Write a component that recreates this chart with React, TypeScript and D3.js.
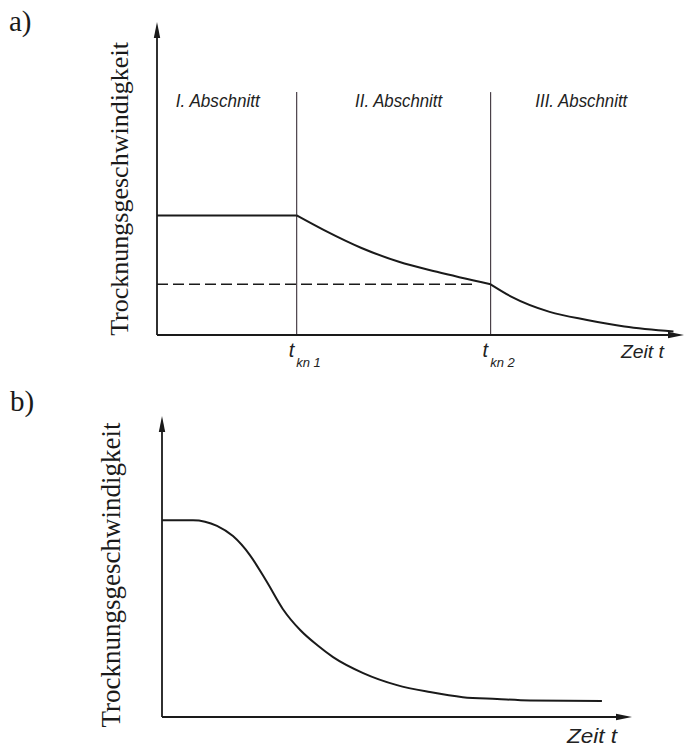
import React from 'react';
import * as d3 from 'd3';

// ---------- data (chart a) ----------
const sectionLabels = ['I. Abschnitt', 'II. Abschnitt', 'III. Abschnitt'];
const criticalTimes = [2.65, 6.33];
const criticalSubs = ['kn 1', 'kn 2'];
const phase1T = [0, 2.65];
const phase1V = [3.82, 3.82];
const phase2T = [2.65, 3.17, 3.88, 4.59, 5.31, 6.33];
const phase2V = [3.82, 3.35, 2.78, 2.34, 2.02, 1.62];
const phase3T = [6.33, 6.73, 7.45, 8.16, 8.87, 9.8];
const phase3V = [1.62, 1.22, 0.74, 0.48, 0.27, 0.11];
const criticalLevel = 1.62;
const sectionTop = 7.76;

// ---------- data (chart b) ----------
const curveBT = [0, 0.66, 1.17, 1.51, 1.87, 2.23, 2.57, 2.94, 3.3, 3.64, 4.28, 5.0, 5.7, 6.4, 7.13, 7.83, 9.36];
const curveBV = [6.54, 6.54, 6.35, 6.01, 5.38, 4.49, 3.59, 2.89, 2.39, 1.99, 1.46, 1.06, 0.83, 0.66, 0.6, 0.55, 0.53];

const yLabel = 'Trocknungsgeschwindigkeit';
const xLabel = 'Zeit t';

const zip = (a: number[], b: number[]) => a.map((t, i) => [t, b[i]] as [number, number]);

export default function App() {
  // scales chart a
  const xa = d3.scaleLinear().domain([0, 10]).range([157, 684]);
  const ya = d3.scaleLinear().domain([0, 10]).range([335, 22]);
  // scales chart b
  const xb = d3.scaleLinear().domain([0, 10]).range([162, 632]);
  const yb = d3.scaleLinear().domain([0, 10]).range([717, 416]);

  const lineA = d3.line<[number, number]>().x(d => xa(d[0])).y(d => ya(d[1]));
  const lineAc = d3.line<[number, number]>().x(d => xa(d[0])).y(d => ya(d[1])).curve(d3.curveMonotoneX);
  const lineBc = d3.line<[number, number]>().x(d => xb(d[0])).y(d => yb(d[1])).curve(d3.curveMonotoneX);

  const ink = '#1a1a1a';
  const arrowUp = (x: number, y: number) => `M${x},${y} L${x - 3.2},${y + 16} L${x + 3.2},${y + 16} Z`;
  const arrowRight = (x: number, y: number) => `M${x},${y} L${x - 16},${y - 3.2} L${x - 16},${y + 3.2} Z`;

  const bounds = [0, ...criticalTimes, 10];
  const labelOffsets = [-9, 5, -6];
  const labelLens = [84, 87, 92];
  const condensed = "'Liberation Sans', Arial, sans-serif";
  const serif = "'Liberation Serif', 'Times New Roman', serif";

  return (
    <svg width={686} height={747} style={{ position: 'absolute', left: 0, top: 0, background: '#fff' }}>
      {/* panel letters */}
      <text x={9} y={31} fontFamily={serif} fontSize={29} fill={ink}>a)</text>
      <text x={10} y={411} fontFamily={serif} fontSize={29} fill={ink}>b)</text>

      {/* ===== chart a ===== */}
      <text transform={`translate(128, 189) rotate(-90)`} textAnchor="middle" fontFamily={serif} fontSize={26} fill={ink}>{yLabel}</text>
      {/* section separators */}
      {criticalTimes.map((t, i) => (
        <line key={i} x1={xa(t)} x2={xa(t)} y1={ya(0)} y2={ya(sectionTop)} stroke="#4a4048" strokeWidth={1.2} />
      ))}
      {/* section labels */}
      {sectionLabels.map((s, i) => (
        <text key={i} x={(xa(bounds[i]) + xa(bounds[i + 1])) / 2 + labelOffsets[i]} y={107} textAnchor="middle"
          fontFamily={condensed} fontStyle="italic" fontSize={19} fill="#222"
          textLength={labelLens[i]} lengthAdjust="spacingAndGlyphs">{s}</text>
      ))}
      {/* dashed critical level */}
      <line x1={xa(0)} x2={xa(criticalTimes[1]) - 17} y1={ya(criticalLevel)} y2={ya(criticalLevel)} stroke={ink} strokeWidth={1.5} strokeDasharray="11,5" />
      {/* curve */}
      <path d={lineA(zip(phase1T, phase1V)) || ''} fill="none" stroke={ink} strokeWidth={2} />
      <path d={lineAc(zip(phase2T, phase2V)) || ''} fill="none" stroke={ink} strokeWidth={2} />
      <path d={lineAc(zip(phase3T, phase3V)) || ''} fill="none" stroke={ink} strokeWidth={2} />
      {/* axes */}
      <line x1={xa(0)} x2={xa(0)} y1={ya(0)} y2={ya(10) + 8} stroke={ink} strokeWidth={1.8} />
      <path d={arrowUp(xa(0), ya(10))} fill={ink} />
      <line x1={xa(0)} x2={xa(10) - 8} y1={ya(0)} y2={ya(0)} stroke={ink} strokeWidth={1.8} />
      <path d={arrowRight(xa(10), ya(0))} fill={ink} />
      {/* tick labels */}
      {criticalTimes.map((t, i) => (
        <text key={i} x={xa(t) - 8} y={357} fontFamily={condensed} fontStyle="italic" fill="#222">
          <tspan fontSize={20}>t</tspan>
          <tspan fontSize={13} dx={2} dy={10}>{criticalSubs[i]}</tspan>
        </text>
      ))}
      <text x={621} y={358} fontFamily={condensed} fontStyle="italic" fontSize={19} fill="#222"
        textLength={43} lengthAdjust="spacingAndGlyphs">{xLabel}</text>

      {/* ===== chart b ===== */}
      <text transform={`translate(120, 575) rotate(-90)`} textAnchor="middle" fontFamily={serif} fontSize={27} fill={ink}>{yLabel}</text>
      <path d={lineBc(zip(curveBT, curveBV)) || ''} fill="none" stroke={ink} strokeWidth={2} />
      <line x1={xb(0)} x2={xb(0)} y1={yb(0)} y2={yb(10) + 8} stroke={ink} strokeWidth={1.8} />
      <path d={arrowUp(xb(0), yb(10))} fill={ink} />
      <line x1={xb(0)} x2={xb(10) - 8} y1={yb(0)} y2={yb(0)} stroke={ink} strokeWidth={1.8} />
      <path d={arrowRight(xb(10), yb(0))} fill={ink} />
      <text x={567} y={743} fontFamily={condensed} fontStyle="italic" fontSize={20} fill="#222"
        textLength={50} lengthAdjust="spacingAndGlyphs">{xLabel}</text>
    </svg>
  );
}
